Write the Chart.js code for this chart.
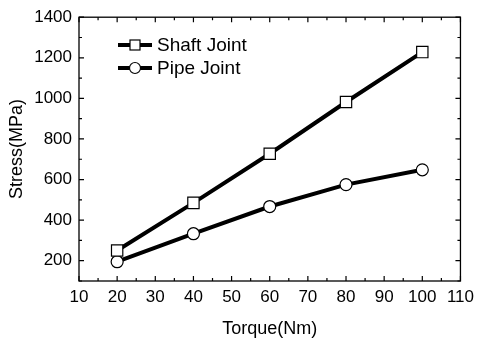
<!DOCTYPE html>
<html>
<head>
<meta charset="utf-8">
<script src="https://cdn.jsdelivr.net/npm/chart.js@4/dist/chart.umd.min.js"></script>
<style>
  html, body { margin: 0; padding: 0; background: #fff; }
  #wrap { width: 480px; height: 340px; }
</style>
</head>
<body>
<div id="wrap"><canvas id="chart" width="480" height="340"></canvas></div>
<script>
// torque values (Nm)
var torque = [20, 40, 60, 80, 100];
// stress (MPa)
var shaftStress = [250, 485, 727, 982, 1228];
var pipeStress = [195, 333, 467, 575, 648];
var xTicks = [10, 20, 30, 40, 50, 60, 70, 80, 90, 100, 110];
var yTicks = [200, 400, 600, 800, 1000, 1200, 1400];

var FONT = '"Liberation Sans", Arial, sans-serif';

function pts(ys) {
    return torque.map(function(x, i) { return { x: x, y: ys[i] }; });
}

// frame, inward ticks on all four sides and the in-plot legend
var framePlugin = {
    id: 'frame',
    afterDraw: function(chart) {
        var ctx = chart.ctx;
        var a = chart.chartArea;
        var xs = chart.scales.x, ys = chart.scales.y;
        ctx.save();
        ctx.strokeStyle = '#000';
        ctx.lineWidth = 1.3;
        ctx.strokeRect(a.left, a.top, a.right - a.left, a.bottom - a.top);
        ctx.lineWidth = 1.2;
        ctx.beginPath();
        for (var v = 10; v <= 110; v += 5) {
            var px = xs.getPixelForValue(v);
            var len = (v % 10 === 0) ? 5 : 3;
            ctx.moveTo(px, a.bottom); ctx.lineTo(px, a.bottom - len);
            ctx.moveTo(px, a.top); ctx.lineTo(px, a.top + len);
        }
        for (var w = 100; w <= 1400; w += 100) {
            var py = ys.getPixelForValue(w);
            var l2 = (w % 200 === 0) ? 5 : 3;
            ctx.moveTo(a.left, py); ctx.lineTo(a.left + l2, py);
            ctx.moveTo(a.right, py); ctx.lineTo(a.right - l2, py);
        }
        ctx.stroke();

        // legend
        var items = chart.data.datasets;
        var lx = 118, ly = 45;
        items.forEach(function(ds, i) {
            var y = ly + i * 23;
            ctx.strokeStyle = '#000';
            ctx.lineWidth = 4;
            ctx.beginPath();
            ctx.moveTo(lx, y); ctx.lineTo(lx + 34, y);
            ctx.stroke();
            ctx.lineWidth = 1.2;
            ctx.fillStyle = '#fff';
            var cx = lx + 17;
            if (ds.pointStyle === 'rect') {
                ctx.fillRect(cx - 5, y - 5, 10, 10);
                ctx.strokeRect(cx - 5, y - 5, 10, 10);
            } else {
                ctx.beginPath();
                ctx.arc(cx, y, 5.5, 0, Math.PI * 2);
                ctx.fill(); ctx.stroke();
            }
            ctx.fillStyle = '#000';
            ctx.font = '19px ' + FONT;
            ctx.textBaseline = 'middle';
            ctx.textAlign = 'left';
            ctx.fillText(ds.label, lx + 39, y + 1);
        });
        ctx.restore();
    }
};

function plain(v) { return String(v); }

var config = {
    type: 'line',
    data: {
        datasets: [{
            label: 'Shaft Joint',
            data: pts(shaftStress),
            borderColor: '#000',
            borderWidth: 4,
            pointStyle: 'rect',
            pointRadius: 8,
            pointBorderWidth: 1.2,
            pointBackgroundColor: '#fff',
            pointBorderColor: '#000'
        }, {
            label: 'Pipe Joint',
            data: pts(pipeStress),
            borderColor: '#000',
            borderWidth: 4,
            pointStyle: 'circle',
            pointRadius: 6,
            pointBorderWidth: 1.2,
            pointBackgroundColor: '#fff',
            pointBorderColor: '#000'
        }]
    },
    options: {
        responsive: false,
        animation: false,
        layout: { padding: { left: 0, right: 16, top: 14, bottom: 0 } },
        plugins: {
            legend: { display: false },
            tooltip: { enabled: false }
        },
        scales: {
            x: {
                type: 'linear',
                min: 10, max: 110,
                afterBuildTicks: function(s) { s.ticks = xTicks.map(function(v) { return { value: v }; }); },
                afterFit: function(s) { s.height = 59; },
                grid: { display: false, drawTicks: false },
                border: { display: false },
                ticks: { color: '#000', padding: 6, maxRotation: 0, callback: plain, font: { family: FONT, size: 17 } },
                title: { display: true, text: 'Torque(Nm)', color: '#000', padding: { top: 6, bottom: 0 }, font: { family: FONT, size: 18 } }
            },
            y: {
                type: 'linear',
                min: 100, max: 1400,
                afterBuildTicks: function(s) { s.ticks = yTicks.map(function(v) { return { value: v }; }); },
                afterFit: function(s) { s.width = 79; },
                grid: { display: false, drawTicks: false },
                border: { display: false },
                ticks: { color: '#000', padding: 7, callback: plain, font: { family: FONT, size: 17 } },
                title: { display: true, text: 'Stress(MPa)', color: '#000', padding: { top: 6, bottom: 2 }, font: { family: FONT, size: 18 } }
            }
        }
    },
    plugins: [framePlugin]
};

window.onload = function() {
    var ctx = document.getElementById('chart').getContext('2d');
    window.myChart = new Chart(ctx, config);
};
</script>
</body>
</html>
